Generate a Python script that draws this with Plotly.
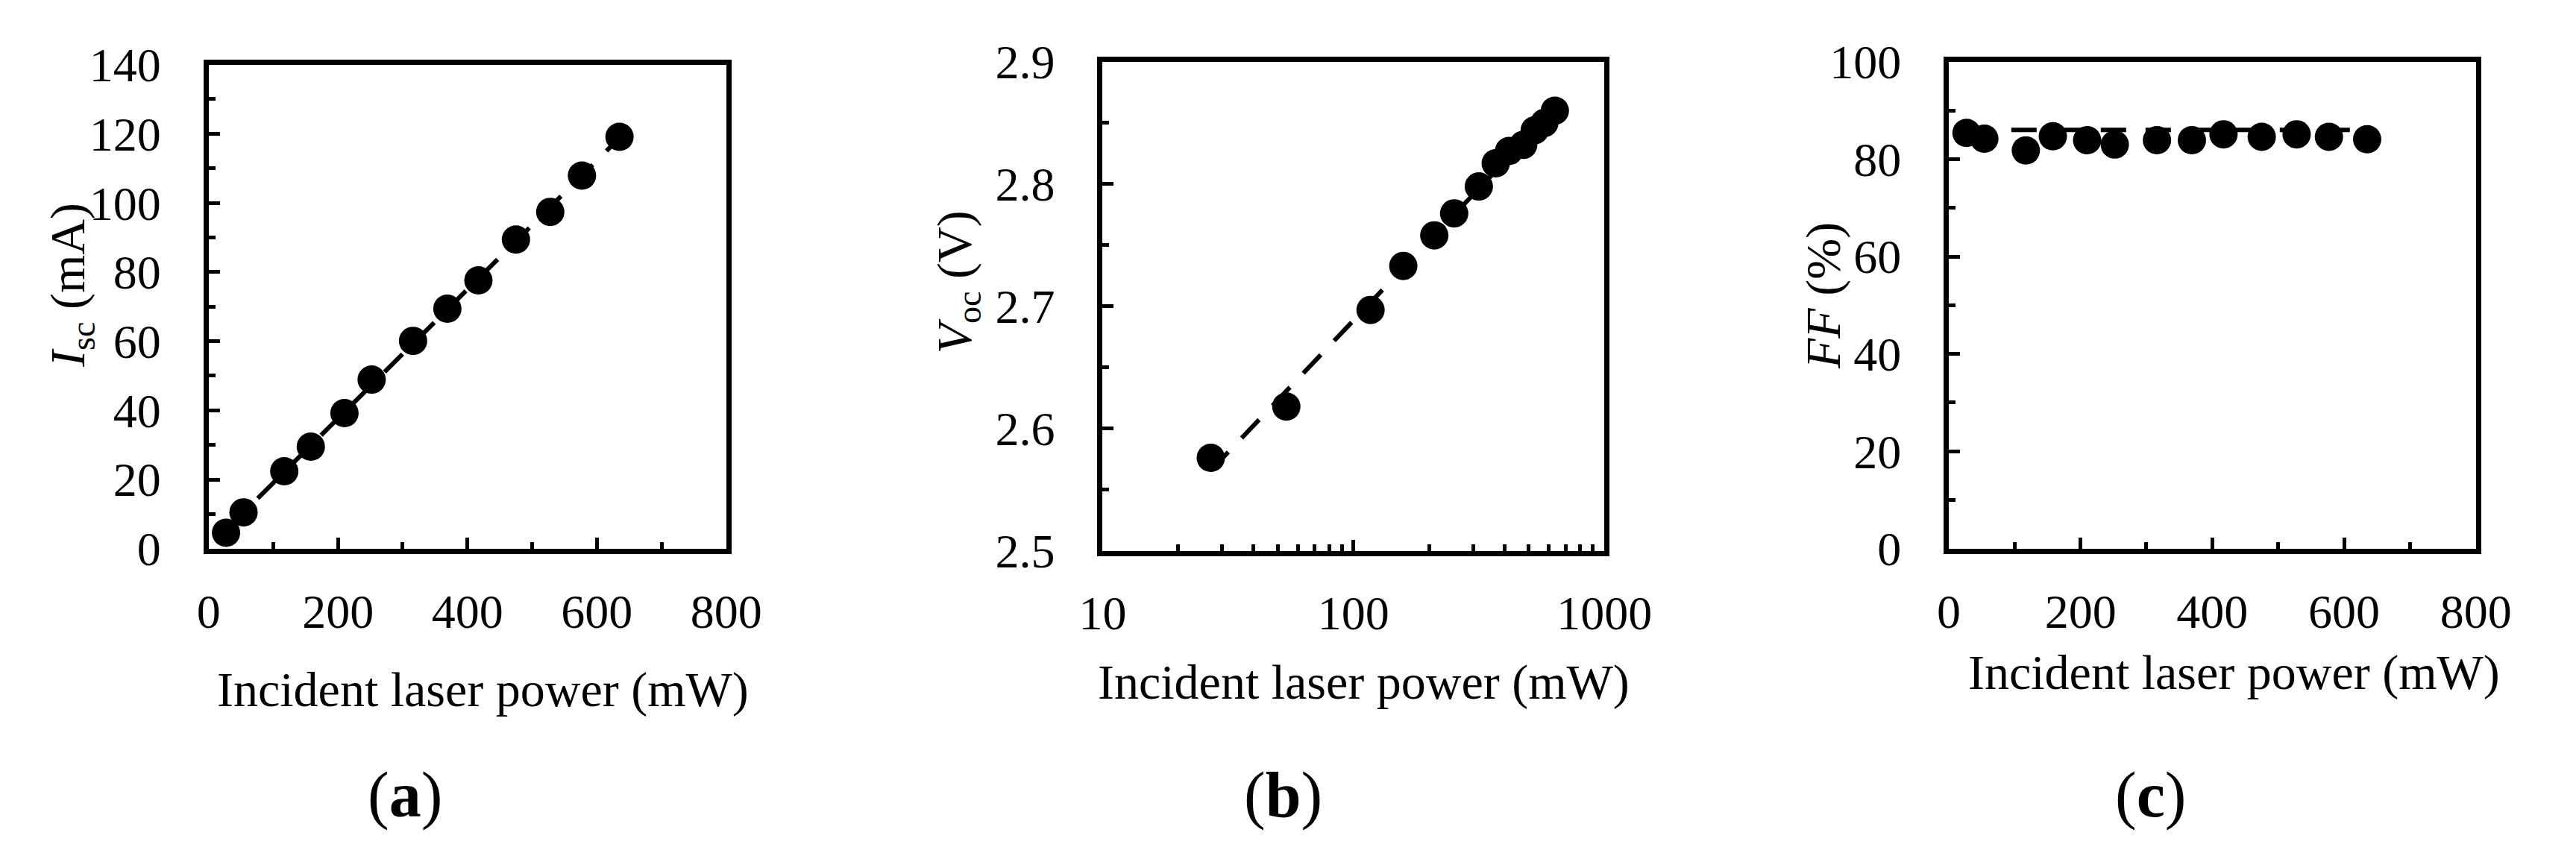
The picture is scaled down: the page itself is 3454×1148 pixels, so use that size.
import numpy as np
import plotly.graph_objects as go

# ---------------- data ----------------
power_mw = [27, 54, 117, 158, 210, 252, 316, 369, 417, 475, 528, 577, 635]
isc_ma = [4.6, 10.5, 22.4, 29.5, 39.2, 48.9, 60.1, 69.4, 77.6, 89.4, 97.4, 107.9, 119.1]
voc_v = [2.576, 2.618, 2.697, 2.733, 2.758, 2.776, 2.798, 2.817, 2.827, 2.832, 2.844, 2.850, 2.860]
ff_pct = [85.4, 84.2, 81.8, 84.7, 83.9, 83.0, 83.9, 83.9, 85.1, 84.6, 85.1, 84.6, 84.1]
ff_guide = [86.0, 86.0]   # dashed guide level in panel (c)

lin_ticks = [0, 200, 400, 600, 800]
log_ticks = [10, 100, 1000]
isc_ticks = [0, 20, 40, 60, 80, 100, 120, 140]
voc_ticks = [2.5, 2.6, 2.7, 2.8, 2.9]
ff_ticks = [0, 20, 40, 60, 80, 100]

x_title = "Incident laser power (mW)"
panel_labels = ["(<b>a</b>)", "(<b>b</b>)", "(<b>c</b>)"]
y_titles = ["<i>I</i><sub>sc</sub> (mA)", "<i>V</i><sub>oc</sub> (V)", "<i>FF</i> (%)"]

# ---------------- trend lines ----------------
p = np.array(power_mw, dtype=float)
xa = np.array([p.min(), p.max()])
ka = np.polyfit(p, isc_ma, 1)
ya = np.polyval(ka, xa)
kb = np.polyfit(np.log10(p), voc_v, 1)
yb = np.polyval(kb, np.log10(xa))

# ---------------- layout geometry ----------------
W, H = 3454, 1148
LW = 7
FONT = "Liberation Serif"
# box line centres in pixels: (left, right, top, bottom)
boxes = [(243, 964, 43, 742), (1476, 2175, 39, 745), (2643, 3377, 39, 742)]


def dom(b):
    l, r, t, bt = b
    h = LW / 2
    return [(l + h) / W, (r - h) / W], [1 - (bt - h) / H, 1 - (t + h) / H]


fig = go.Figure()
mk = dict(color="black", size=38, symbol="circle")
dl = dict(color="black", width=6, dash="34px,26px")

fig.add_trace(go.Scatter(x=xa, y=ya, mode="lines", line=dl, xaxis="x", yaxis="y"))
fig.add_trace(go.Scatter(x=power_mw, y=isc_ma, mode="markers", marker=mk, xaxis="x", yaxis="y"))
fig.add_trace(go.Scatter(x=xa, y=yb, mode="lines", line=dl, xaxis="x2", yaxis="y2"))
fig.add_trace(go.Scatter(x=power_mw, y=voc_v, mode="markers", marker=mk, xaxis="x2", yaxis="y2"))
fig.add_trace(go.Scatter(x=xa, y=ff_guide, mode="lines", line=dl, xaxis="x3", yaxis="y3"))
fig.add_trace(go.Scatter(x=power_mw, y=ff_pct, mode="markers", marker=mk, xaxis="x3", yaxis="y3"))

tickfont = dict(family=FONT, size=64, color="black")
common = dict(showline=True, linecolor="black", linewidth=LW, mirror=True,
              ticks="inside", ticklen=15, tickwidth=5, tickcolor="black",
              showgrid=False, zeroline=False, tickfont=tickfont)
minor = dict(ticks="inside", ticklen=9, tickwidth=5, tickcolor="black", showgrid=False)

d1x, d1y = dom(boxes[0])
d2x, d2y = dom(boxes[1])
d3x, d3y = dom(boxes[2])

XS, YS = 22, 44
fig.update_layout(
    width=W, height=H, margin=dict(l=0, r=0, t=0, b=0),
    paper_bgcolor="white", plot_bgcolor="white", showlegend=False,
    xaxis=dict(domain=d1x, anchor="y", range=[0, 800], tickvals=lin_ticks,
               minor=dict(dtick=100, **minor), ticklabelstandoff=XS, **common),
    yaxis=dict(domain=d1y, anchor="x", range=[0, 140], tickvals=isc_ticks,
               minor=dict(dtick=10, **minor), ticklabelstandoff=YS, **common),
    xaxis2=dict(domain=d2x, anchor="y2", type="log", range=[1, 3], tickvals=log_ticks,
                minor=dict(dtick="D1", **minor), ticklabelstandoff=XS, **common),
    yaxis2=dict(domain=d2y, anchor="x2", range=[2.5, 2.9], tickvals=voc_ticks,
                tickformat=".1f", minor=dict(dtick=0.05, **minor), ticklabelstandoff=YS, **common),
    xaxis3=dict(domain=d3x, anchor="y3", range=[0, 800], tickvals=lin_ticks,
                minor=dict(dtick=100, **minor), ticklabelstandoff=XS, **common),
    yaxis3=dict(domain=d3y, anchor="x3", range=[0, 100], tickvals=ff_ticks,
                minor=dict(dtick=10, **minor), ticklabelstandoff=YS, **common),
)

tfont = dict(family=FONT, size=66, color="black")
# x titles: (centre x px, centre y px)
for cx, cy in [(625, 940), (1840, 930), (3040, 916)]:
    fig.add_annotation(text=x_title, x=cx / W, y=1 - cy / H, xref="paper", yref="paper",
                       showarrow=False, font=tfont, xanchor="center", yanchor="middle")
# y titles
for txt, (cx, cy) in zip(y_titles, [(57, 362), (1280, 357), (2473, 377)]):
    fig.add_annotation(text=txt, x=cx / W, y=1 - cy / H, xref="paper", yref="paper",
                       showarrow=False, font=tfont, textangle=-90,
                       xanchor="center", yanchor="middle")
# panel labels
for txt, cx in zip(panel_labels, [517, 1729, 2925]):
    fig.add_annotation(text=txt, x=cx / W, y=1 - 1090 / H, xref="paper", yref="paper",
                       showarrow=False, font=dict(family=FONT, size=86, color="black"),
                       xanchor="center", yanchor="middle")

fig.write_html("out.html")
